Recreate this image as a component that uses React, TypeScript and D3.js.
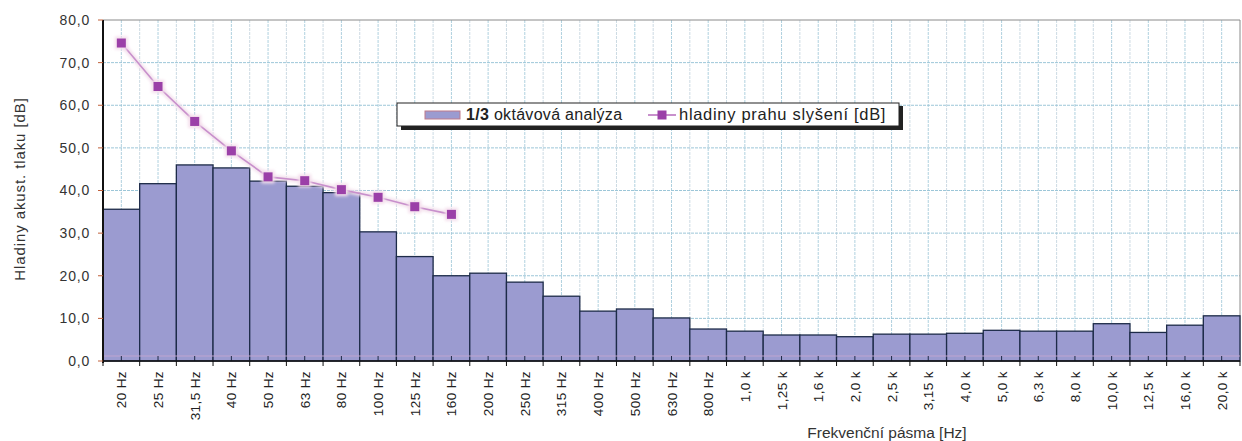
import React from "react";
import * as d3 from "d3";

const categories = [
  "20 Hz", "25 Hz", "31,5 Hz", "40 Hz", "50 Hz", "63 Hz", "80 Hz", "100 Hz", "125 Hz", "160 Hz",
  "200 Hz", "250 Hz", "315 Hz", "400 Hz", "500 Hz", "630 Hz", "800 Hz", "1,0 k", "1,25 k", "1,6 k",
  "2,0 k", "2,5 k", "3,15 k", "4,0 k", "5,0 k", "6,3 k", "8,0 k", "10,0 k", "12,5 k", "16,0 k", "20,0 k",
];

const octaveValues = [
  35.6, 41.6, 46.0, 45.3, 42.2, 41.0, 39.5, 30.3, 24.5, 20.0,
  20.6, 18.5, 15.2, 11.7, 12.2, 10.1, 7.5, 7.0, 6.1, 6.1,
  5.7, 6.3, 6.3, 6.5, 7.2, 7.0, 7.0, 8.75, 6.7, 8.4, 10.6,
];

const thresholdCategories = ["20 Hz", "25 Hz", "31,5 Hz", "40 Hz", "50 Hz", "63 Hz", "80 Hz", "100 Hz", "125 Hz", "160 Hz"];
const thresholdValues = [74.6, 64.4, 56.2, 49.3, 43.2, 42.3, 40.2, 38.4, 36.2, 34.4];

const yTicks = [0, 10, 20, 30, 40, 50, 60, 70, 80];

const FONT = "'Liberation Sans', Arial, sans-serif";

export default function App() {
  const W = 1242, H = 441;
  const left = 103, right = 1240, top = 20, bottom = 361;
  const x = d3.scaleBand<string>().domain(categories).range([left, right]).padding(0);
  const y = d3.scaleLinear().domain([0, 80]).range([bottom, top]);
  const bw = x.bandwidth();
  const cx = (c: string) => (x(c) as number) + bw / 2;

  const line = d3.line<number>()
    .x((_, i) => cx(thresholdCategories[i]))
    .y((d) => y(d));

  const gridX: number[] = [];
  categories.forEach((c) => {
    gridX.push(x(c) as number);
    gridX.push(cx(c));
  });

  return (
    <svg width={W} height={H} style={{ position: "absolute", left: 0, top: 0, background: "#fff" }} fontFamily={FONT}>
      <defs>
        <filter id="glow" x="-50%" y="-50%" width="200%" height="200%">
          <feGaussianBlur stdDeviation="1.6" />
        </filter>
      </defs>
      {/* grid */}
      {gridX.map((gx, i) => (
        <line key={"gx" + i} x1={gx} x2={gx} y1={top} y2={bottom}
          stroke={i % 2 === 0 ? "#ccdae3" : "#b0d1df"} strokeWidth={1} strokeDasharray="3,1" />
      ))}
      {yTicks.filter((t) => t > 0 && t < 80).map((t) => (
        <line key={"gy" + t} x1={left} x2={right} y1={y(t)} y2={y(t)}
          stroke="#9cc6d8" strokeWidth={1} strokeDasharray="3,1" />
      ))}
      {/* frame */}
      <line x1={left} x2={right} y1={top} y2={top} stroke="#8a8a8a" strokeWidth={1} />
      <line x1={right} x2={right} y1={top} y2={bottom} stroke="#8a8a8a" strokeWidth={1} />

      {/* bars */}
      {categories.map((c, i) => (
        <rect key={"b" + i} x={x(c) as number} y={y(octaveValues[i])} width={bw}
          height={bottom - y(octaveValues[i])} fill="#9b9bd0" stroke="#1d2b48" strokeWidth={1.3} />
      ))}
      <line x1={left} x2={right} y1={y(1.2)} y2={y(1.2)} stroke="#c4a8d0" strokeWidth={2} opacity={0.45} />
      {/* center ticks inside bars */}
      {categories.map((c, i) => (
        <line key={"ct" + i} x1={cx(c)} x2={cx(c)} y1={bottom} y2={bottom - 5} stroke="#1d2b48" strokeWidth={1} />
      ))}

      {/* axes */}
      <line x1={left} x2={right} y1={bottom} y2={bottom} stroke="#111" strokeWidth={1.5} />
      {categories.map((c, i) => (
        <line key={"et" + i} x1={x(c) as number} x2={x(c) as number} y1={bottom} y2={bottom + 5} stroke="#111" strokeWidth={1} />
      ))}
      <line x1={right} x2={right} y1={bottom} y2={bottom + 5} stroke="#111" strokeWidth={1} />
      <line x1={left} x2={left} y1={top} y2={bottom + 2} stroke="#111" strokeWidth={2} />
      {yTicks.map((t) => (
        <g key={"yt" + t}>
          <line x1={left - 5} x2={left} y1={y(t)} y2={y(t)} stroke="#c0603a" strokeWidth={1} />
          <text x={90} y={y(t)} dy="0.35em" textAnchor="end" fontSize={14} letterSpacing={0.8} fill="#333">
            {t.toFixed(1).replace(".", ",")}
          </text>
        </g>
      ))}

      {/* threshold line */}
      <path d={line(thresholdValues) || ""} fill="none" stroke="#f3e0ec" strokeWidth={5} filter="url(#glow)" />
      <path d={line(thresholdValues) || ""} fill="none" stroke="#c890cc" strokeWidth={1.6} />
      {thresholdValues.map((v, i) => (
        <g key={"m" + i}>
          <rect x={cx(thresholdCategories[i]) - 6.5} y={y(v) - 6.5} width={13} height={13} fill="#f4dfec" filter="url(#glow)" />
          <rect x={cx(thresholdCategories[i]) - 4.5} y={y(v) - 4.5} width={9} height={9} fill="#9b40a8" />
        </g>
      ))}

      {/* x labels */}
      {categories.map((c, i) => (
        <text key={"xl" + i} transform={`translate(${cx(c) + 5},${bottom + 10}) rotate(-90)`}
          textAnchor="end" fontSize={13.5} letterSpacing={0.4} fill="#222">{c}</text>
      ))}

      {/* titles */}
      <text transform={`translate(25,189) rotate(-90)`} textAnchor="middle" fontSize={15} letterSpacing={0.9} fill="#333">
        Hladiny akust. tlaku [dB]
      </text>
      <text x={887} y={438} textAnchor="middle" fontSize={15.5} fill="#333">Frekvenční pásma [Hz]</text>

      {/* legend */}
      <rect x={401} y={106} width={502} height={24} fill="#222" />
      <rect x={397} y={103} width={502} height={23} fill="#fff" stroke="#222" strokeWidth={1} />
      <rect x={425} y={111} width={35} height={8} fill="#9b9bd0" stroke="#c07a8a" strokeWidth={1} />
      <text x={466} y={120} fontSize={16} letterSpacing={0.3} fill="#222">
        <tspan fontWeight="bold">1/3</tspan> oktávová analýza
      </text>
      <line x1={648} x2={676} y1={115} y2={115} stroke="#c890cc" strokeWidth={2} />
      <rect x={657.5} y={110.5} width={9} height={9} fill="#9b40a8" />
      <text x={679} y={120} fontSize={16.5} letterSpacing={0.7} fill="#222">hladiny prahu slyšení [dB]</text>
    </svg>
  );
}
